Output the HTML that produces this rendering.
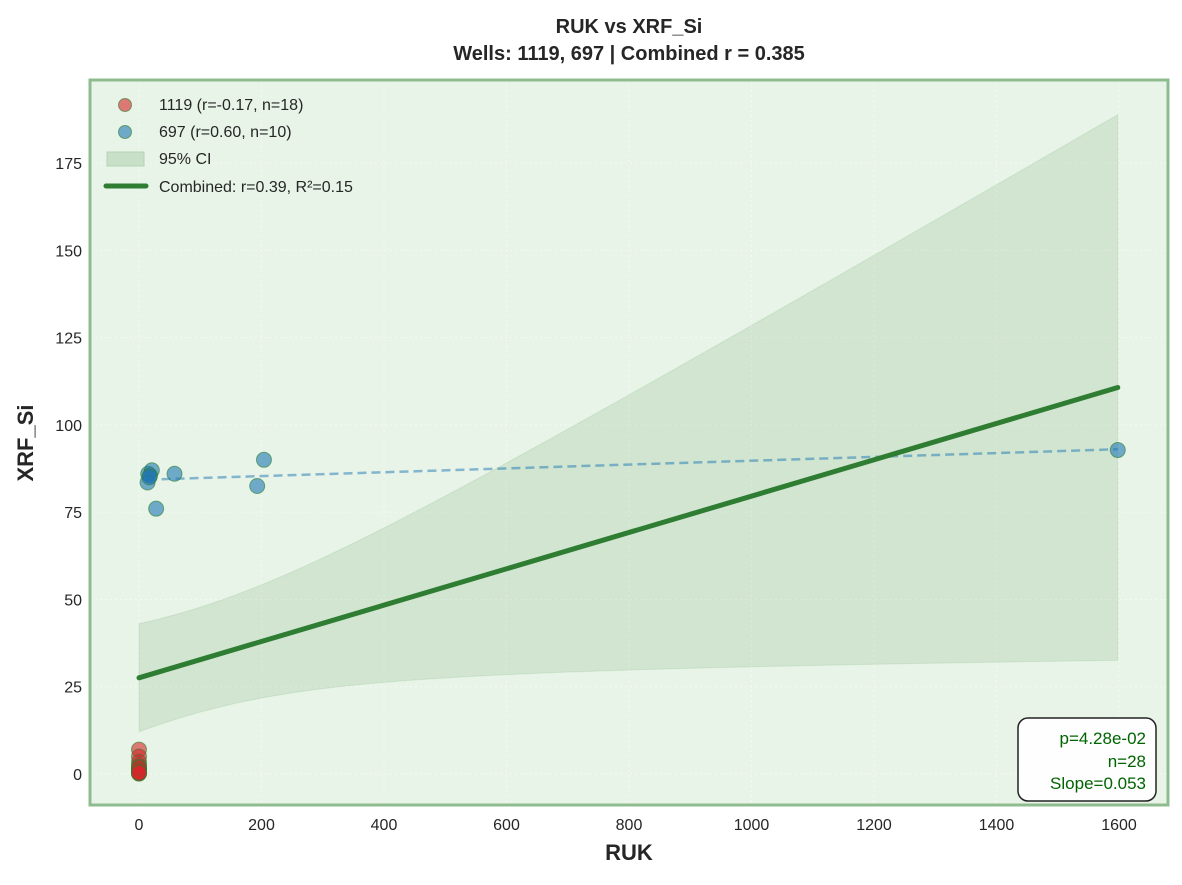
<!DOCTYPE html>
<html><head><meta charset="utf-8"><style>
body{margin:0;background:#fff;font-family:"Liberation Sans",Arial,sans-serif;}
svg text{font-family:"Liberation Sans",Arial,sans-serif;fill:#262626;}
</style></head><body>
<svg id="chart" width="1182" height="880" xmlns="http://www.w3.org/2000/svg">
<text x="629" y="33" text-anchor="middle" font-size="20" font-weight="bold">RUK vs XRF_Si</text>
<text x="629" y="60" text-anchor="middle" font-size="20" font-weight="bold">Wells: 1119, 697 | Combined r = 0.385</text>
<rect x="90" y="80" width="1078" height="725" fill="#e7f4e7"/>
<g id="grid"></g>
<g id="ci"></g>
<g id="fits"></g>
<g id="pts"></g>
<rect x="90" y="80" width="1078" height="725" fill="none" stroke="#8fbc8f" stroke-width="3"/>
<g id="ticks"></g>
<text x="629" y="860" text-anchor="middle" font-size="22" font-weight="bold">RUK</text>
<text x="0" y="0" transform="translate(33,443) rotate(-90)" text-anchor="middle" font-size="22" font-weight="bold">XRF_Si</text>
<g>
<circle cx="125" cy="105" r="6.5" fill="#d62728" fill-opacity="0.6" stroke="#2e7d32" stroke-opacity="0.6"/>
<text x="159" y="110" font-size="16">1119 (r=-0.17, n=18)</text>
<circle cx="125" cy="132" r="6.5" fill="#1f77b4" fill-opacity="0.6" stroke="#2e7d32" stroke-opacity="0.6"/>
<text x="159" y="137" font-size="16">697 (r=0.60, n=10)</text>
<rect x="107" y="152" width="37" height="14" fill="#c8e0c8" stroke="#b5d3b5"/>
<text x="159" y="164" font-size="16">95% CI</text>
<line x1="106" y1="186" x2="146" y2="186" stroke="#2e7d32" stroke-width="5" stroke-linecap="round"/>
<text x="159" y="192" font-size="16">Combined: r=0.39, R²=0.15</text>
</g>
<g>
<rect x="1018" y="718" width="138" height="83" rx="10" fill="#fff" fill-opacity="0.9" stroke="#222" stroke-width="1.5"/>
<text x="1146" y="744" text-anchor="end" font-size="17" style="fill:#006400">p=4.28e-02</text>
<text x="1146" y="767" text-anchor="end" font-size="17" style="fill:#006400">n=28</text>
<text x="1146" y="789" text-anchor="end" font-size="17" style="fill:#006400">Slope=0.053</text>
</g>
</svg>
<script>
const xA=[15,21,18,14,28,58,204,193,1598,17];
const yA=[86,87,85.5,83.5,76,86,90,82.5,92.8,85];
const xB=[0,0,0,0,0,0,0,0,0,0,0,0,0,0,0,0,0,0];
const yB=[7,5,3.5,2.5,2,1.5,1.2,1,1,0.8,0.6,0.5,0.5,0.3,0.2,0.1,1.8,0.4];
const xTicks=[0,200,400,600,800,1000,1200,1400,1600];
const yTicks=[0,25,50,75,100,125,150,175];
const NS="http://www.w3.org/2000/svg";
const sx=v=>139+v*0.6125, sy=v=>774-v*3.491;
function mk(t,a,p){const e=document.createElementNS(NS,t);for(const k in a)e.setAttribute(k,a[k]);document.getElementById(p).appendChild(e);return e;}
xTicks.forEach(v=>{
 const g=mk('line',{x1:sx(v),x2:sx(v),y1:80,y2:805,stroke:'#fff','stroke-opacity':0.5,'stroke-dasharray':'2,3','stroke-width':1},'grid');
 
 
 const t=mk('text',{x:sx(v),y:830,'text-anchor':'middle','font-size':16},'ticks');t.textContent=v;
 
 
});
yTicks.forEach(v=>{
 const g=mk('line',{x1:90,x2:1168,y1:sy(v),y2:sy(v),stroke:'#fff','stroke-opacity':0.5,'stroke-dasharray':'2,3','stroke-width':1},'grid');
 
 
 const t=mk('text',{x:82,y:sy(v)+6,'text-anchor':'end','font-size':16},'ticks');t.textContent=v;
 
 
});
function fit(xs,ys){const n=xs.length,mx=xs.reduce((a,b)=>a+b)/n,my=ys.reduce((a,b)=>a+b)/n;let sxx=0,sxy=0;xs.forEach((x,i)=>{sxx+=(x-mx)**2;sxy+=(x-mx)*(ys[i]-my);});const b=sxy/sxx,a=my-b*mx;let sse=0;xs.forEach((x,i)=>{sse+=(ys[i]-a-b*x)**2;});return{a,b,mx,sxx,n,s:Math.sqrt(sse/(n-2))};}
const X=xA.concat(xB),Y=yA.concat(yB);
const f=fit(X,Y);const xmax=Math.max(...X);
let up=[],lo=[];
for(let i=0;i<=100;i++){const x=xmax*i/100,yh=f.a+f.b*x,se=2.056*f.s*Math.sqrt(1/f.n+(x-f.mx)**2/f.sxx);up.push(sx(x)+','+sy(yh+se));lo.unshift(sx(x)+','+sy(yh-se));}
const ci=mk('polygon',{points:up.concat(lo).join(' '),fill:'#2e7d32','fill-opacity':0.12,stroke:'#2e7d32','stroke-opacity':0.1},'ci');


const fa=fit(xA,yA);const xa0=Math.min(...xA),xa1=Math.max(...xA);
const d=mk('line',{x1:sx(xa0),y1:sy(fa.a+fa.b*xa0),x2:sx(xa1),y2:sy(fa.a+fa.b*xa1),stroke:'#1f77b4','stroke-opacity':0.5,'stroke-width':2.5,'stroke-dasharray':'9,5'},'fits');


const c=mk('line',{x1:sx(0),y1:sy(f.a),x2:sx(xmax),y2:sy(f.a+f.b*xmax),stroke:'#2e7d32','stroke-width':5,'stroke-linecap':'round'},'fits');


xB.forEach((x,i)=>{const p=mk('circle',{cx:sx(x),cy:sy(yB[i]),r:7.5,fill:'#d62728','fill-opacity':0.6,stroke:'#2e7d32','stroke-opacity':0.6},'pts');
 
 });
xA.forEach((x,i)=>{const p=mk('circle',{cx:sx(x),cy:sy(yA[i]),r:7.5,fill:'#1f77b4','fill-opacity':0.6,stroke:'#2e7d32','stroke-opacity':0.6},'pts');
 
 });
</script>
</body></html>
